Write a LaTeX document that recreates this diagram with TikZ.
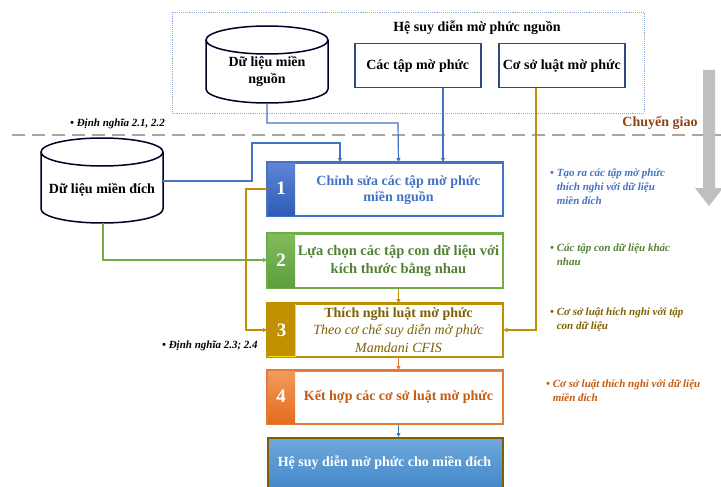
\documentclass[tikz,border=0pt]{standalone}
\usepackage{fontspec}
\setmainfont{Liberation Serif}
\usetikzlibrary{arrows.meta}
\definecolor{cblue}{HTML}{4472C4}
\definecolor{cgreen}{HTML}{70AD47}
\definecolor{cdgreen}{HTML}{548235}
\definecolor{cgold}{HTML}{BF9000}
\definecolor{cdgold}{HTML}{7F6000}
\definecolor{corange}{HTML}{E07B39}
\definecolor{cdorange}{HTML}{C55A11}
\definecolor{cnavy}{HTML}{2F4B7C}
\definecolor{cgray}{HTML}{A6A6A6}
\definecolor{cdot}{HTML}{8EA9DB}
\definecolor{cbrown}{HTML}{8B4513}
\definecolor{cbig}{HTML}{BFBFBF}
\definecolor{n1top}{HTML}{5F85D6}
\definecolor{n1bot}{HTML}{2E5CB8}
\definecolor{n2top}{HTML}{82BC5E}
\definecolor{n2bot}{HTML}{5E9E3C}
\definecolor{n4top}{HTML}{F29B5E}
\definecolor{n4bot}{HTML}{E46C1E}
\definecolor{fintop}{HTML}{6FA8DC}
\definecolor{finbot}{HTML}{3F85C8}
\newcommand\fsz[2]{\fontsize{#1}{#2}\selectfont}
\tikzset{
  conn/.style={line width=1.2pt,-{Triangle[length=4pt,width=4pt]}},
  stepframe/.style={draw=#1,line width=1.5pt,rectangle,inner sep=0pt,anchor=north west,minimum width=235pt},
  numbox/.style={rectangle,inner sep=0pt,anchor=north west,minimum width=28pt,text=white,font=\bfseries\fsz{19}{22}},
  steptext/.style={align=center,inner sep=0pt,font=\bfseries\fsz{14}{16.5}},
  srcbox/.style={draw=cnavy,line width=1.5pt,rectangle,inner sep=0pt,anchor=north west,minimum width=126pt,minimum height=44pt,font=\bfseries\fsz{14}{16}},
  cyl/.style={draw=black!85!blue,line width=1.5pt,fill=white},
  note/.style={align=left,inner sep=0pt,anchor=north west,font=\bfseries\itshape\fsz{11}{14}},
}
\begin{document}
\begin{tikzpicture}[x=1pt,y=-1pt]
\clip (0,0) rectangle (721,487);
\fill[white] (0,0) rectangle (721,487);

% source system dotted frame
\draw[cdot,densely dotted,line width=0.9pt] (172,12) rectangle (644,113);
\node[font=\bfseries\fsz{14}{16}] (srctitle) at (477,28) {Hệ suy diễn mờ phức nguồn};

% source data cylinder
\fill[white] (206,40) -- (206,89) arc[start angle=180,end angle=360,x radius=61pt,y radius=14pt] -- (328,40) -- cycle;
\draw[cyl] (206,40) -- (206,89) arc[start angle=180,end angle=360,x radius=61pt,y radius=14pt] -- (328,40);
\draw[cyl] (267,40) ellipse[x radius=61pt,y radius=14pt];
\node[align=center,font=\bfseries\fsz{14}{17}] (srcdata) at (267,71) {Dữ liệu miền\\nguồn};
\coordinate (srcbot) at (267,103);

\node[srcbox] (sets) at (354,43) {Các tập mờ phức};
\node[srcbox] (rules) at (498,43) {Cơ sở luật mờ phức};

% transfer dashed line and big arrow
\draw[cgray,line width=2pt,dash pattern=on 13pt off 7pt] (12,135) -- (721,135);
\node[text=cbrown,font=\bfseries\fsz{14}{16}] (transfer) at (660,123) {Chuyển giao};
\fill[cbig] (703,70) -- (715,70) -- (715,188) -- (723,188) -- (709,206) -- (695,188) -- (703,188) -- cycle;

\node[note,anchor=west] (def1) at (70,124) {• Định nghĩa 2.1, 2.2};
\node[note,anchor=west] (def2) at (162,346) {• Định nghĩa 2.3; 2.4};

% target data cylinder
\fill[white] (41,152) -- (41,209) arc[start angle=180,end angle=360,x radius=61pt,y radius=14pt] -- (163,152) -- cycle;
\draw[cyl] (41,152) -- (41,209) arc[start angle=180,end angle=360,x radius=61pt,y radius=14pt] -- (163,152);
\draw[cyl] (102,152) ellipse[x radius=61pt,y radius=14pt];
\node[font=\bfseries\fsz{14}{16}] (tgtdata) at (102,190) {Dữ liệu miền đích};
\coordinate (tgtright) at (163,181);
\coordinate (tgtbot) at (103,223);

% step 1
\node[stepframe=cblue,minimum height=53pt] (b1) at (267,162) {};
\node[numbox,minimum height=53pt,top color=n1top,bottom color=n1bot] (n1) at (267,162) {1};
\draw[cblue,line width=1.5pt] (b1.north west) rectangle (b1.south east);
\node[steptext,text=cblue] (t1) at (398.5,190) {Chỉnh sửa các tập mờ phức\\miền nguồn};

% step 2
\node[stepframe=cgreen,minimum height=54pt] (b2) at (267,233) {};
\node[numbox,minimum height=54pt,top color=n2top,bottom color=n2bot] (n2) at (267,233) {2};
\draw[cgreen,line width=1.5pt] (b2.north west) rectangle (b2.south east);
\node[steptext,text=cdgreen,font=\bfseries\fsz{14.5}{18}] (t2) at (398.5,261) {Lựa chọn các tập con dữ liệu với\\kích thước bằng nhau};

% step 3
\node[stepframe=cgold,minimum height=53pt] (b3) at (267,303) {};
\node[numbox,minimum height=53pt,fill=cgold,draw=yellow!80!orange,line width=1pt] (n3) at (267,303) {3};
\draw[cgold,line width=1.5pt] (b3.north west) rectangle (b3.south east);
\node[steptext,text=cdgold,font=\fsz{14}{17.5}] (t3) at (398.5,330) {\textbf{Thích nghi luật mờ phức}\\\textit{Theo cơ chế suy diễn mờ phức}\\\textit{Mamdani CFIS}};

% step 4
\node[stepframe=corange,minimum height=53pt] (b4) at (267,370) {};
\node[numbox,minimum height=53pt,top color=n4top,bottom color=n4bot] (n4) at (267,370) {4};
\draw[corange,line width=1.5pt] (b4.north west) rectangle (b4.south east);
\node[steptext,text=cdorange] (t4) at (398.5,397) {Kết hợp các cơ sở luật mờ phức};

% final result
\node[rectangle,draw=cdgold,line width=1.5pt,anchor=north west,minimum width=235pt,minimum height=56pt,top color=fintop,bottom color=finbot,inner sep=0pt] (fin) at (267,437) {};
\node[text=white,font=\bfseries\fsz{14}{16}] (tfin) at (384.5,463) {Hệ suy diễn mờ phức cho miền đích};

% right-hand notes
\node[note,text=cblue] (nt1) at (550,169) {• Tạo ra các tập mờ phức\\\phantom{• }thích nghi với dữ liệu\\\phantom{• }miền đích};
\node[note,text=cdgreen] (nt2) at (550,244) {• Các tập con dữ liệu khác\\\phantom{• }nhau};
\node[note,text=cdgold] (nt3) at (550,308) {• Cơ sở luật hích nghi với tập\\\phantom{• }con dữ liệu};
\node[note,text=cdorange] (nt4) at (546,380) {• Cơ sở luật thích nghi với dữ liệu\\\phantom{• }miền đích};

% connectors
\draw[conn,cblue] (srcbot) -- (267,123) -- (398,123) -- (b1.north -| t1);
\draw[conn,cblue] (sets.south -| 443,0) -- (b1.north -| 443,0);
\draw[conn,cblue] (tgtright) -- (252,181) -- (252,143) -- (340,143) -- (b1.north -| 340,0);
\draw[conn,cgreen] (tgtbot) -- (103,260) -- (b2.west |- 0,260);
\draw[conn,cgold] (b1.west |- 0,189) -- (246,189) -- (246,330) -- (b3.west |- 0,330);
\draw[conn,cgold] (rules.south -| 536,0) -- (536,330) -- (b3.east |- 0,330);
\draw[conn,cgold] (b2.south -| t2) -- (b3.north -| t2);
\draw[conn,corange] (b3.south -| t3) -- (b4.north -| t3);
\draw[conn,cblue] (b4.south -| t4) -- (fin.north -| t4);
\end{tikzpicture}
\end{document}
